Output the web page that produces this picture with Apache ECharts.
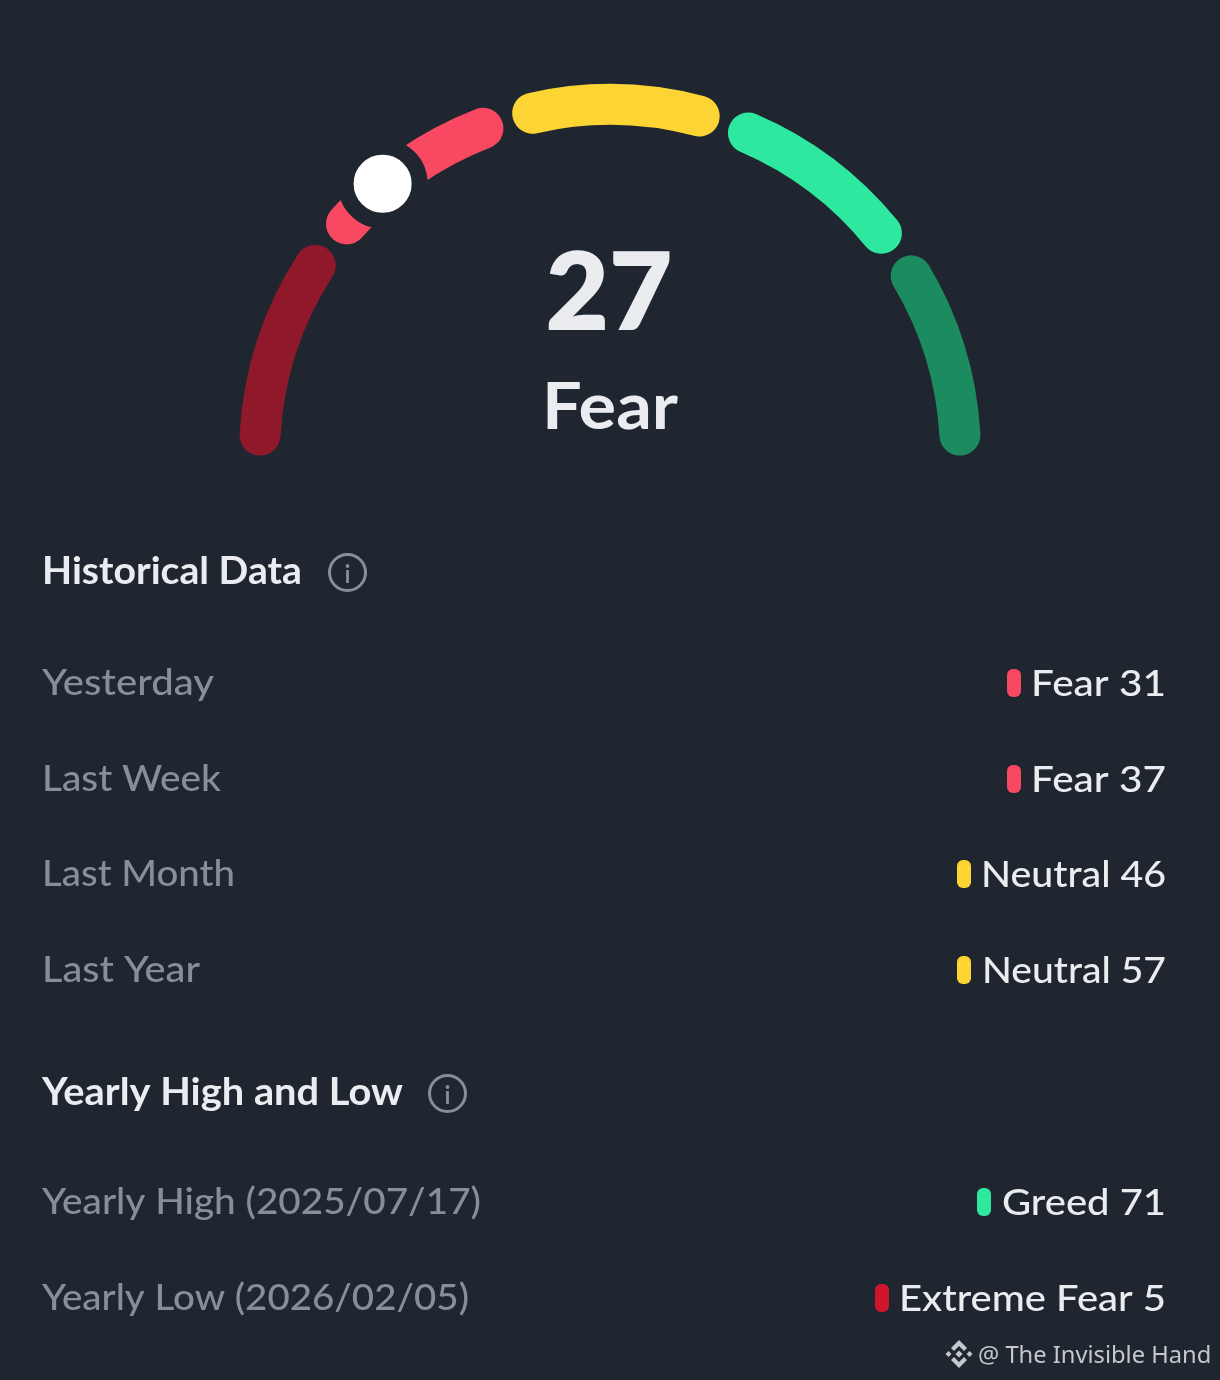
<!DOCTYPE html>
<html><head><meta charset="utf-8">
<style>html,body{margin:0;padding:0;background:#1F2630}#c{width:1220px;height:1380px}</style>
<script src="https://cdn.jsdelivr.net/npm/echarts@6/dist/echarts.min.js"></script>
</head><body><div id="c"></div>
<script>
// ---- data ----
const zoneNames = ['Extreme Fear','Fear','Neutral','Greed','Extreme Greed'];
const zoneSizes = [38,36,36,36,36];
const zoneColors = ['#8F192B','#F94862','#FCD535','#2EE8A0','#1C8B60'];
const currentValue = 27;
const currentLabel = 'Fear';
const historyLabels = ['Yesterday','Last Week','Last Month','Last Year'];
const historyRatings = ['Fear','Fear','Neutral','Neutral'];
const historyValues = [31,37,46,57];
const yearlyLabels = ['Yearly High (2025/07/17)','Yearly Low (2026/02/05)'];
const yearlyRatings = ['Greed','Extreme Fear'];
const yearlyValues = [71,5];
const ratingColors = {'Extreme Fear':'#CF152D','Fear':'#F94862','Neutral':'#FCD535','Greed':'#2EE8A0'};
const pillLefts = {'Extreme Fear':875,'Fear':1007,'Neutral':957,'Greed':977};

// ---- layout ----
const BG='#1F2630', FG='#EAECEF', GREY='#848E9C', FONT='Lato, "Open Sans", sans-serif';
const g=[];
const mctx=document.createElement('canvas').getContext('2d');
function txt(text,x,y,size,weight,fill,align,fitWidth){
  const font=weight+' '+size+'px '+FONT;
  mctx.font=font;
  const sx=fitWidth?fitWidth/mctx.measureText(text).width:1;
  g.push({type:'text',silent:true,x:x,y:y,scaleX:sx,style:{text:text,fill:fill,textAlign:align||'left',textVerticalAlign:'middle',font:font}});
}
function info(cx,cy){
  g.push({type:'circle',silent:true,shape:{cx:cx,cy:cy,r:18},style:{fill:'none',stroke:GREY,lineWidth:3}});
  g.push({type:'rect',silent:true,shape:{x:cx-1.4,y:cy-2.5,width:2.8,height:13},style:{fill:GREY}});
  g.push({type:'circle',silent:true,shape:{cx:cx,cy:cy-6.5,r:1.9},style:{fill:GREY}});
}
const labelWidths=[172,179,193,158,439,427];
const valueWidths=[135,135,185,184,164,267];
function row(idx,label,rating,value,y){
  txt(label,42,y,37.5,'500',GREY,'left',labelWidths[idx]);
  txt(rating+' '+value,1166,y+0.5,37.5,'500',FG,'right',valueWidths[idx]);
  g.push({type:'rect',silent:true,shape:{x:pillLefts[rating],y:y-14,width:14,height:28,r:6},style:{fill:ratingColors[rating]}});
}
txt(String(currentValue),609,295,108,'800',FG,'center',127);
txt(currentLabel,610,408,65,'700',FG,'center',136);
txt('Historical Data',42,571.5,38,'700',FG,'left',260); info(347.5,572.5);
txt('Yearly High and Low',42,1092.5,38,'700',FG,'left',361); info(447.5,1093.5);
const histY=[683,779,874,970];
historyLabels.forEach((l,i)=>row(i,l,historyRatings[i],historyValues[i],histY[i]));
const yearY=[1202,1298];
yearlyLabels.forEach((l,i)=>row(i+4,l,yearlyRatings[i],yearlyValues[i],yearY[i]));

// watermark
const WM='#C4C7CC';
g.push({type:'text',silent:true,style:{text:'@ The Invisible Hand',x:978,y:1356,fill:WM,textAlign:'left',textVerticalAlign:'middle',
  font:'400 23.7px "Noto Sans", sans-serif',shadowColor:'rgba(0,0,0,0.5)',shadowBlur:2,shadowOffsetX:1,shadowOffsetY:1}});
const lx=959, ly=1354;
[[[0,-3.6],[3.6,0],[0,3.6],[-3.6,0]],
 [[-10.5,-3],[-7.5,0],[-10.5,3],[-13.5,0]],
 [[10.5,-3],[13.5,0],[10.5,3],[7.5,0]],
 [[0,-14],[8,-6],[5,-3],[0,-8],[-5,-3],[-8,-6]],
 [[0,14],[8,6],[5,3],[0,8],[-5,3],[-8,6]]].forEach(p=>{
  g.push({type:'polygon',silent:true,shape:{points:p.map(q=>[q[0]+lx,q[1]+ly])},style:{fill:WM}});
});

const chart=echarts.init(document.getElementById('c'),null,{renderer:'canvas',width:1220,height:1380});
chart.setOption({
  animation:false,
  backgroundColor:BG,
  polar:{center:[610,455],radius:[0,371]},
  angleAxis:{type:'value',min:-0.8,max:99.2,startAngle:180,endAngle:0,show:false},
  radiusAxis:{type:'value',min:0,max:371,show:false},
  series:[
    {type:'pie',silent:true,center:[610,455],radius:[330,371],startAngle:181,endAngle:-1,padAngle:1.8,
     itemStyle:{borderRadius:21},label:{show:false},labelLine:{show:false},z:1,
     data:zoneSizes.map((v,i)=>({name:zoneNames[i],value:v,itemStyle:{color:zoneColors[i]}}))},
    {type:'scatter',silent:true,coordinateSystem:'polar',symbol:'circle',symbolSize:74,z:5,
     itemStyle:{color:'#FFFFFF',borderColor:BG,borderWidth:16,opacity:1},
     data:[[354,currentValue]]}
  ],
  graphic:{elements:g}
});
</script></body></html>
